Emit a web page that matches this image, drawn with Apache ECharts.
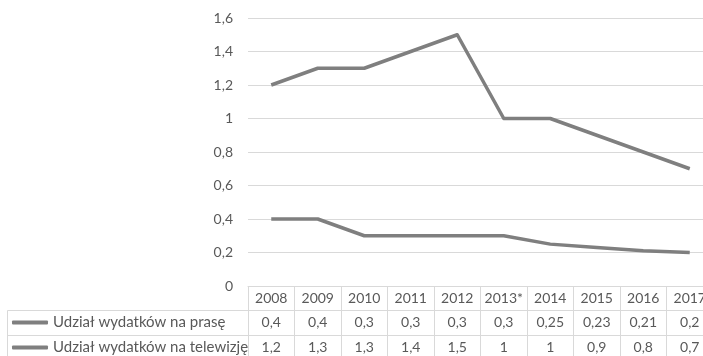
<!DOCTYPE html>
<html>
<head>
<meta charset="utf-8">
<title>Udział wydatków</title>
<script src="https://cdn.jsdelivr.net/npm/echarts@6/dist/echarts.min.js"></script>
<style>
  html, body { margin: 0; padding: 0; background: #ffffff; overflow: hidden; }
  /* the last table column runs past the right edge of the window */
  #chart { width: 713px; height: 356px; }
</style>
</head>
<body>
<div id="chart"></div>
<script>
// Lata (kolumny tabeli danych)
const years = ['2008', '2009', '2010', '2011', '2012', '2013*', '2014', '2015', '2016', '2017'];
// Udział wydatków na prasę
const prasa = [0.4, 0.4, 0.3, 0.3, 0.3, 0.3, 0.25, 0.23, 0.21, 0.2];
// Udział wydatków na telewizję
const telewizja = [1.2, 1.3, 1.3, 1.4, 1.5, 1, 1, 0.9, 0.8, 0.7];
const seriesNames = ['Udział wydatków na prasę', 'Udział wydatków na telewizję'];

const FONT = 'Lato, "Open Sans", sans-serif';
const TEXT = '#595959';
const RULE = '#d9d9d9';
const LINE = '#7f7f7f';

// liczby z przecinkiem dziesiętnym
const pl = v => String(+Number(v).toFixed(2)).replace('.', ',');

// jedna oś kategorii na każdy wiersz tabeli danych
function tableAxis(offset, formatter) {
  return {
    type: 'category',
    data: years,
    position: 'bottom',
    offset: offset,
    boundaryGap: true,
    axisLine: { show: true, lineStyle: { color: RULE, width: 1 } },
    axisTick: { show: true, interval: 0, length: 25, lineStyle: { color: RULE, width: 1 } },
    axisLabel: {
      interval: 0,
      margin: 12.5,
      verticalAlign: 'middle',
      color: TEXT,
      fontFamily: FONT,
      fontSize: 14,
      formatter: formatter
    },
    splitLine: { show: false }
  };
}

// klucz legendy w wierszu tabeli
function rowLegend(name, top) {
  return {
    data: [name],
    orient: 'horizontal',
    left: 12,
    top: top,
    padding: 0,
    itemWidth: 36,
    itemHeight: 4,
    icon: 'roundRect',
    selectedMode: false,
    textStyle: { color: TEXT, fontFamily: FONT, fontSize: 15, lineHeight: 25 }
  };
}

const chart = echarts.init(document.getElementById('chart'), null, { renderer: 'canvas' });

chart.setOption({
  backgroundColor: '#ffffff',
  animation: false,
  grid: { left: 248, top: 18, right: 0, height: 268, containLabel: false },
  legend: [
    rowLegend(seriesNames[0], 310),
    rowLegend(seriesNames[1], 335)
  ],
  xAxis: [
    tableAxis(0, v => v),
    tableAxis(24, (v, i) => pl(prasa[i])),
    tableAxis(49, (v, i) => pl(telewizja[i]))
  ],
  yAxis: {
    type: 'value',
    min: 0,
    max: 1.6,
    interval: 0.2,
    axisLine: { show: false },
    axisTick: { show: false },
    axisLabel: { color: TEXT, fontFamily: FONT, fontSize: 14, margin: 15, formatter: pl },
    splitLine: { show: true, lineStyle: { color: RULE, width: 1 } }
  },
  // ramki kolumny z nazwami serii
  graphic: [
    { type: 'line', shape: { x1: 7.5, y1: 310.5, x2: 248, y2: 310.5 }, style: { stroke: RULE, lineWidth: 1 } },
    { type: 'line', shape: { x1: 7.5, y1: 335.5, x2: 248, y2: 335.5 }, style: { stroke: RULE, lineWidth: 1 } },
    { type: 'line', shape: { x1: 7.5, y1: 310.5, x2: 7.5, y2: 360 }, style: { stroke: RULE, lineWidth: 1 } }
  ],
  series: [
    {
      name: seriesNames[0],
      type: 'line',
      xAxisIndex: 0,
      data: prasa,
      symbol: 'none',
      color: LINE,
      lineStyle: { color: LINE, width: 3.5, join: 'round' }
    },
    {
      name: seriesNames[1],
      type: 'line',
      xAxisIndex: 0,
      data: telewizja,
      symbol: 'none',
      color: LINE,
      lineStyle: { color: LINE, width: 3.5, join: 'round' }
    }
  ]
});
</script>
</body>
</html>
